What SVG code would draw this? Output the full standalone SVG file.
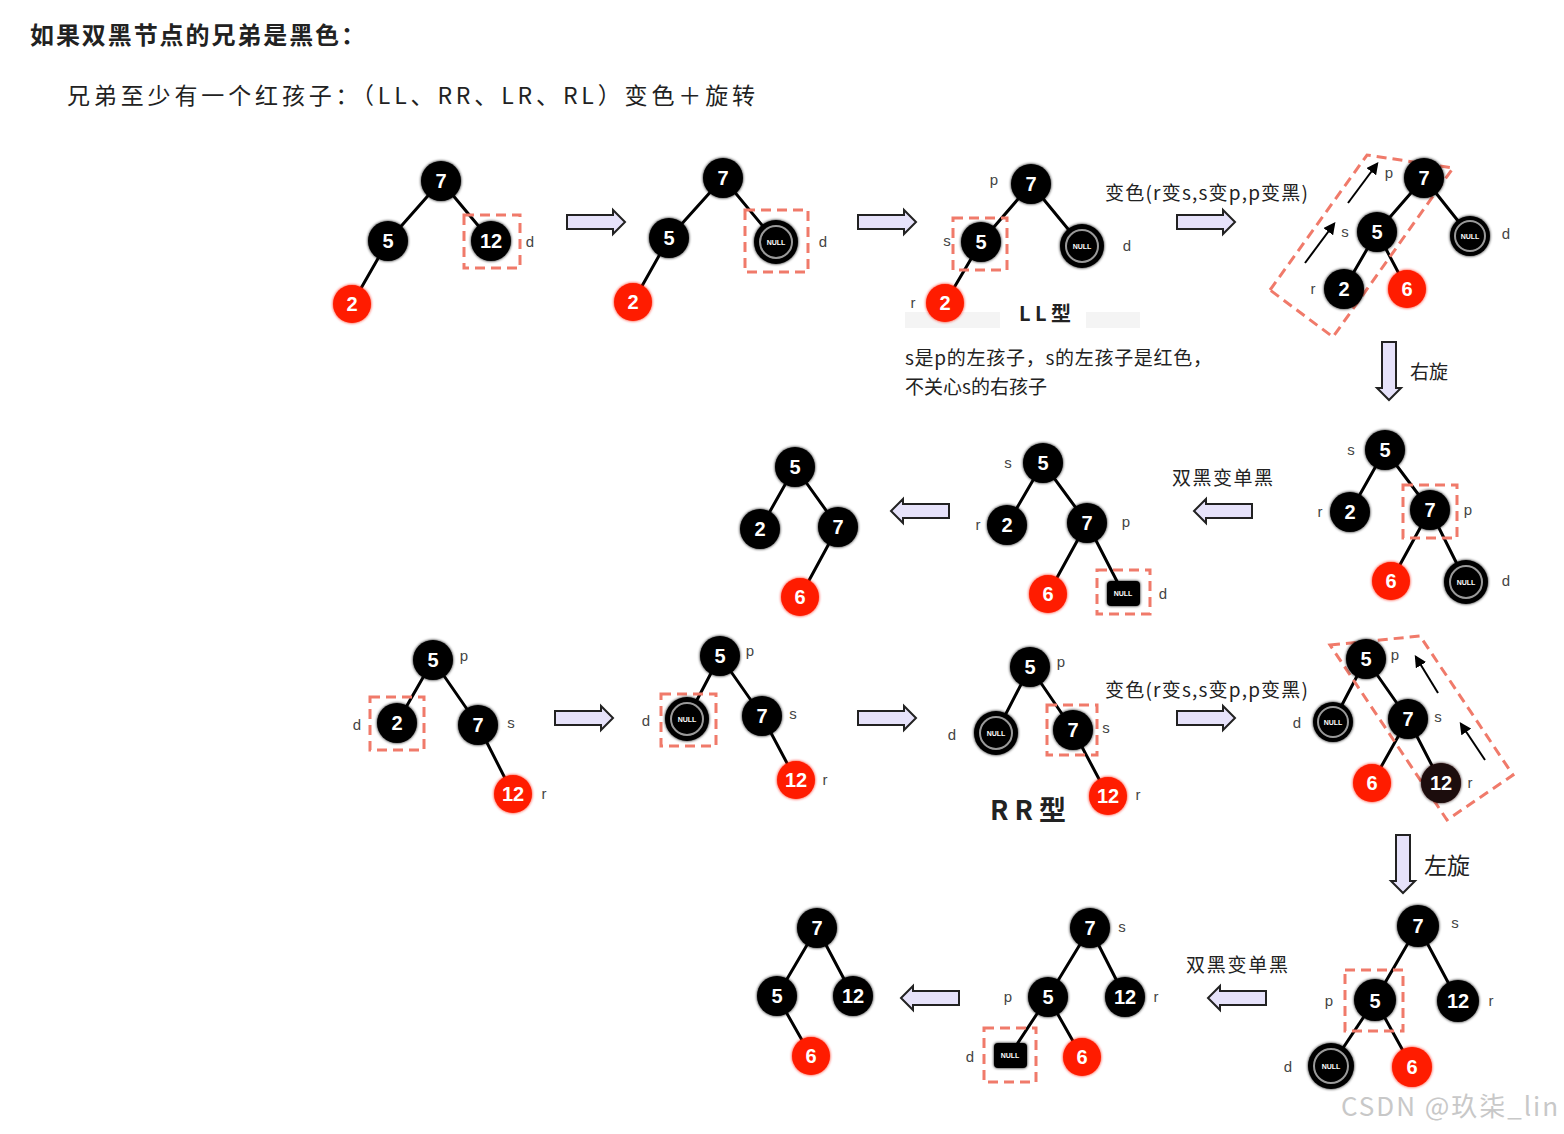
<svg xmlns="http://www.w3.org/2000/svg" width="1564" height="1134" viewBox="0 0 1564 1134">
<style>
.e{stroke:#000;stroke-width:3;stroke-linecap:round}
.nb{fill:#000;filter:url(#soft)}
.nr{fill:#ff1a00;filter:url(#soft)}
.nd{fill:#1a0808;filter:url(#soft)}
.nt{fill:#fff;font-family:"Liberation Sans",Arial,sans-serif;font-weight:bold;font-size:20px;text-anchor:middle}
.lb{fill:#444;font-family:"Liberation Sans",Arial,sans-serif;font-size:15px;text-anchor:middle}
.db{fill:none;stroke:#f07a6a;stroke-width:3;stroke-dasharray:10 6}
.ar{fill:#e6e2fa;stroke:#222;stroke-width:2}
.ring{fill:none;stroke:#9a9a9a;stroke-width:2}
.nl{fill:#fff;font-family:"Liberation Sans",Arial,sans-serif;font-weight:bold;font-size:7px;text-anchor:middle}
.cn{font-family:"Noto Sans CJK SC","Liberation Sans",sans-serif;fill:#222}
.ba{stroke:#000;stroke-width:2;fill:none;marker-end:url(#ah)}
</style>
<defs>
<filter id="soft" x="-30%" y="-30%" width="160%" height="160%">
<feGaussianBlur in="SourceGraphic" stdDeviation="1.8" result="b"/>
<feMerge><feMergeNode in="b"/><feMergeNode in="SourceGraphic"/></feMerge>
</filter>
<path id="arR" class="ar" d="M0,-7 H46 V-12 L58,0 L46,12 V7 H0 Z"/>
<marker id="ah" viewBox="0 0 10 10" refX="8" refY="5" markerWidth="6" markerHeight="6" orient="auto">
<path d="M0,0 L10,5 L0,10 Z" fill="#000"/>
</marker>
</defs>
<rect width="1564" height="1134" fill="#fff"/>

<g id="texts">
<text class="cn" x="30" y="44" font-size="24" font-weight="bold" textLength="335" lengthAdjust="spacing">如果双黑节点的兄弟是黑色：</text>
<text class="cn" x="67" y="104" font-size="23" fill="#333" textLength="688" lengthAdjust="spacing">兄弟至少有一个红孩子：（LL、RR、LR、RL）变色＋旋转</text>
<text class="cn" x="1105" y="200" font-size="19" textLength="203" lengthAdjust="spacing">变色(r变s,s变p,p变黑)</text>
<text class="cn" x="1105" y="697" font-size="19" textLength="203" lengthAdjust="spacing">变色(r变s,s变p,p变黑)</text>
<rect x="905" y="312" width="95" height="16" fill="#f4f4f4"/>
<rect x="1086" y="312" width="54" height="16" fill="#f4f4f4"/>
<text class="cn" x="1045" y="321" font-size="20" font-weight="bold" text-anchor="middle">L L 型</text>
<text class="cn" x="905" y="365" font-size="19" textLength="307" lengthAdjust="spacing">s是p的左孩子，s的左孩子是红色，</text>
<text class="cn" x="905" y="394" font-size="19">不关心s的右孩子</text>
<text class="cn" x="1028" y="820" font-size="27" font-weight="bold" text-anchor="middle">R R 型</text>
<text class="cn" x="1172" y="485" font-size="19" textLength="101" lengthAdjust="spacing">双黑变单黑</text>
<text class="cn" x="1186" y="972" font-size="19" textLength="102" lengthAdjust="spacing">双黑变单黑</text>
<text class="cn" x="1410" y="379" font-size="19">右旋</text>
<text class="cn" x="1424" y="874" font-size="23">左旋</text>
<text x="1341" y="1116" font-family="Noto Sans CJK SC,Liberation Sans,sans-serif" font-size="26" fill="#c8c8c8" textLength="217" lengthAdjust="spacing">CSDN @玖柒_lin</text>
</g>

<g id="connectors">
<line class="e" x1="441" y1="181" x2="388" y2="241"/><line class="e" x1="441" y1="181" x2="491" y2="241"/><line class="e" x1="388" y1="241" x2="352" y2="304"/>
<line class="e" x1="723" y1="178" x2="669" y2="238"/><line class="e" x1="723" y1="178" x2="776" y2="242"/><line class="e" x1="669" y1="238" x2="633" y2="302"/>
<line class="e" x1="1031" y1="184" x2="981" y2="242"/><line class="e" x1="1031" y1="184" x2="1082" y2="246"/><line class="e" x1="981" y1="242" x2="945" y2="303"/>
<line class="e" x1="1424" y1="178" x2="1377" y2="232"/><line class="e" x1="1424" y1="178" x2="1470" y2="236"/><line class="e" x1="1377" y1="232" x2="1344" y2="289"/><line class="e" x1="1377" y1="232" x2="1407" y2="289"/>
<line class="e" x1="1385" y1="450" x2="1350" y2="512"/><line class="e" x1="1385" y1="450" x2="1430" y2="510"/><line class="e" x1="1430" y1="510" x2="1391" y2="581"/><line class="e" x1="1430" y1="510" x2="1466" y2="582"/>
<line class="e" x1="1043" y1="463" x2="1007" y2="525"/><line class="e" x1="1043" y1="463" x2="1087" y2="523"/><line class="e" x1="1087" y1="523" x2="1048" y2="594"/><line class="e" x1="1087" y1="523" x2="1123" y2="593"/>
<line class="e" x1="795" y1="467" x2="760" y2="529"/><line class="e" x1="795" y1="467" x2="838" y2="527"/><line class="e" x1="838" y1="527" x2="800" y2="597"/>
<line class="e" x1="433" y1="660" x2="397" y2="723"/><line class="e" x1="433" y1="660" x2="478" y2="725"/><line class="e" x1="478" y1="725" x2="513" y2="794"/>
<line class="e" x1="720" y1="656" x2="687" y2="719"/><line class="e" x1="720" y1="656" x2="762" y2="716"/><line class="e" x1="762" y1="716" x2="796" y2="780"/>
<line class="e" x1="1030" y1="667" x2="996" y2="733"/><line class="e" x1="1030" y1="667" x2="1073" y2="730"/><line class="e" x1="1073" y1="730" x2="1108" y2="796"/>
<line class="e" x1="1366" y1="659" x2="1333" y2="722"/><line class="e" x1="1366" y1="659" x2="1408" y2="719"/><line class="e" x1="1408" y1="719" x2="1372" y2="783"/><line class="e" x1="1408" y1="719" x2="1441" y2="783"/>
<line class="e" x1="1418" y1="926" x2="1375" y2="1000"/><line class="e" x1="1418" y1="926" x2="1458" y2="1001"/><line class="e" x1="1375" y1="1000" x2="1331" y2="1066"/><line class="e" x1="1375" y1="1000" x2="1412" y2="1067"/>
<line class="e" x1="1090" y1="928" x2="1048" y2="997"/><line class="e" x1="1090" y1="928" x2="1125" y2="997"/><line class="e" x1="1048" y1="997" x2="1010" y2="1055"/><line class="e" x1="1048" y1="997" x2="1082" y2="1057"/>
<line class="e" x1="817" y1="928" x2="777" y2="996"/><line class="e" x1="817" y1="928" x2="853" y2="996"/><line class="e" x1="777" y1="996" x2="811" y2="1056"/>
<!-- block arrows -->
<use href="#arR" transform="translate(567,222)"/>
<use href="#arR" transform="translate(858,222)"/>
<use href="#arR" transform="translate(1177,222)"/>
<use href="#arR" transform="translate(555,718)"/>
<use href="#arR" transform="translate(858,718)"/>
<use href="#arR" transform="translate(1177,718)"/>
<use href="#arR" transform="translate(1252,511) scale(-1,1)"/>
<use href="#arR" transform="translate(949,511) scale(-1,1)"/>
<use href="#arR" transform="translate(1266,998) scale(-1,1)"/>
<use href="#arR" transform="translate(959,998) scale(-1,1)"/>
<use href="#arR" transform="translate(1389,342) rotate(90)"/>
<use href="#arR" transform="translate(1403,835) rotate(90)"/>
<!-- small black arrows -->
<line class="ba" x1="1305" y1="263" x2="1334" y2="224"/>
<line class="ba" x1="1348" y1="203" x2="1377" y2="164"/>
<line class="ba" x1="1438" y1="693" x2="1416" y2="657"/>
<line class="ba" x1="1485" y1="760" x2="1461" y2="724"/>
</g>

<g id="highlights">
<rect class="db" x="464" y="215" width="56" height="53"/>
<rect class="db" x="745" y="210" width="63" height="62"/>
<rect class="db" x="953" y="218" width="54" height="52"/>
<polygon class="db" points="1270,290 1367,155 1453,168 1333,337"/>
<rect class="db" x="1403" y="485" width="54" height="53"/>
<rect class="db" x="1097" y="570" width="53" height="44"/>
<rect class="db" x="370" y="697" width="54" height="53"/>
<rect class="db" x="661" y="694" width="55" height="52"/>
<rect class="db" x="1047" y="705" width="50" height="50"/>
<polygon class="db" points="1330,645 1420,636 1513,775 1447,820"/>
<rect class="db" x="1345" y="970" width="58" height="61"/>
<rect class="db" x="984" y="1028" width="52" height="54"/>
</g>

<!-- Tree A -->
<g id="a7"><circle class="nb" cx="441" cy="181" r="20"/><text class="nt" x="441" y="188">7</text></g>
<g id="a5"><circle class="nb" cx="388" cy="241" r="20"/><text class="nt" x="388" y="248">5</text></g>
<g id="a12"><circle class="nb" cx="491" cy="241" r="20"/><text class="nt" x="491" y="248">12</text><text class="lb" x="530" y="247">d</text></g>
<g id="a2"><circle class="nr" cx="352" cy="304" r="19"/><text class="nt" x="352" y="311">2</text></g>
<!-- Tree B -->
<g id="b7"><circle class="nb" cx="723" cy="178" r="20"/><text class="nt" x="723" y="185">7</text></g>
<g id="b5"><circle class="nb" cx="669" cy="238" r="20"/><text class="nt" x="669" y="245">5</text></g>
<g id="bnull"><circle class="nb" cx="776" cy="242" r="22"/><circle class="ring" cx="776" cy="242" r="16"/><text class="nl" x="776" y="245">NULL</text><text class="lb" x="823" y="247">d</text></g>
<g id="b2"><circle class="nr" cx="633" cy="302" r="19"/><text class="nt" x="633" y="309">2</text></g>
<!-- Tree C -->
<g id="c7"><circle class="nb" cx="1031" cy="184" r="20"/><text class="nt" x="1031" y="191">7</text><text class="lb" x="994" y="185">p</text></g>
<g id="c5"><circle class="nb" cx="981" cy="242" r="20"/><text class="nt" x="981" y="249">5</text><text class="lb" x="947" y="246" font-size="11">s</text></g>
<g id="cnull"><circle class="nb" cx="1082" cy="246" r="22"/><circle class="ring" cx="1082" cy="246" r="16"/><text class="nl" x="1082" y="249">NULL</text><text class="lb" x="1127" y="251">d</text></g>
<g id="c2"><circle class="nr" cx="945" cy="303" r="19"/><text class="nt" x="945" y="310">2</text><text class="lb" x="913" y="308">r</text></g>
<!-- Tree D -->
<g id="d7"><circle class="nb" cx="1424" cy="178" r="20"/><text class="nt" x="1424" y="185">7</text><text class="lb" x="1389" y="178">p</text></g>
<g id="d5"><circle class="nb" cx="1377" cy="232" r="20"/><text class="nt" x="1377" y="239">5</text><text class="lb" x="1345" y="237">s</text></g>
<g id="dnull"><circle class="nb" cx="1470" cy="236" r="20"/><circle class="ring" cx="1470" cy="236" r="15"/><text class="nl" x="1470" y="239">NULL</text><text class="lb" x="1506" y="239">d</text></g>
<g id="d2"><circle class="nb" cx="1344" cy="289" r="20"/><text class="nt" x="1344" y="296">2</text><text class="lb" x="1313" y="294">r</text></g>
<g id="d6"><circle class="nr" cx="1407" cy="289" r="19"/><text class="nt" x="1407" y="296">6</text></g>
<!-- Tree E -->
<g id="e5"><circle class="nb" cx="1385" cy="450" r="20"/><text class="nt" x="1385" y="457">5</text><text class="lb" x="1351" y="455">s</text></g>
<g id="e2"><circle class="nb" cx="1350" cy="512" r="20"/><text class="nt" x="1350" y="519">2</text><text class="lb" x="1320" y="517">r</text></g>
<g id="e7"><circle class="nb" cx="1430" cy="510" r="20"/><text class="nt" x="1430" y="517">7</text><text class="lb" x="1468" y="515">p</text></g>
<g id="e6"><circle class="nr" cx="1391" cy="581" r="19"/><text class="nt" x="1391" y="588">6</text></g>
<g id="enull"><circle class="nb" cx="1466" cy="582" r="22"/><circle class="ring" cx="1466" cy="582" r="16"/><text class="nl" x="1466" y="585">NULL</text><text class="lb" x="1506" y="586">d</text></g>
<!-- Tree F -->
<g id="f5"><circle class="nb" cx="1043" cy="463" r="20"/><text class="nt" x="1043" y="470">5</text><text class="lb" x="1008" y="468">s</text></g>
<g id="f2"><circle class="nb" cx="1007" cy="525" r="20"/><text class="nt" x="1007" y="532">2</text><text class="lb" x="978" y="530">r</text></g>
<g id="f7"><circle class="nb" cx="1087" cy="523" r="20"/><text class="nt" x="1087" y="530">7</text><text class="lb" x="1126" y="527">p</text></g>
<g id="f6"><circle class="nr" cx="1048" cy="594" r="19"/><text class="nt" x="1048" y="601">6</text></g>
<g id="fnull"><rect class="nb" x="1107" y="581" width="33" height="25" rx="4"/><text class="nl" x="1123" y="596">NULL</text><text class="lb" x="1163" y="599">d</text></g>
<!-- Tree G -->
<g id="g5"><circle class="nb" cx="795" cy="467" r="20"/><text class="nt" x="795" y="474">5</text></g>
<g id="g2"><circle class="nb" cx="760" cy="529" r="20"/><text class="nt" x="760" y="536">2</text></g>
<g id="g7"><circle class="nb" cx="838" cy="527" r="20"/><text class="nt" x="838" y="534">7</text></g>
<g id="g6"><circle class="nr" cx="800" cy="597" r="19"/><text class="nt" x="800" y="604">6</text></g>
<!-- Tree H -->
<g id="h5"><circle class="nb" cx="433" cy="660" r="20"/><text class="nt" x="433" y="667">5</text><text class="lb" x="464" y="661">p</text></g>
<g id="h2"><circle class="nb" cx="397" cy="723" r="20"/><text class="nt" x="397" y="730">2</text><text class="lb" x="357" y="730">d</text></g>
<g id="h7"><circle class="nb" cx="478" cy="725" r="20"/><text class="nt" x="478" y="732">7</text><text class="lb" x="511" y="728">s</text></g>
<g id="h12"><circle class="nr" cx="513" cy="794" r="19"/><text class="nt" x="513" y="801">12</text><text class="lb" x="544" y="799">r</text></g>
<!-- Tree I -->
<g id="i5"><circle class="nb" cx="720" cy="656" r="20"/><text class="nt" x="720" y="663">5</text><text class="lb" x="750" y="656">p</text></g>
<g id="inull"><circle class="nb" cx="687" cy="719" r="22"/><circle class="ring" cx="687" cy="719" r="16"/><text class="nl" x="687" y="722">NULL</text><text class="lb" x="646" y="726">d</text></g>
<g id="i7"><circle class="nb" cx="762" cy="716" r="20"/><text class="nt" x="762" y="723">7</text><text class="lb" x="793" y="719">s</text></g>
<g id="i12"><circle class="nr" cx="796" cy="780" r="19"/><text class="nt" x="796" y="787">12</text><text class="lb" x="825" y="785">r</text></g>
<!-- Tree J -->
<g id="j5"><circle class="nb" cx="1030" cy="667" r="20"/><text class="nt" x="1030" y="674">5</text><text class="lb" x="1061" y="667">p</text></g>
<g id="jnull"><circle class="nb" cx="996" cy="733" r="22"/><circle class="ring" cx="996" cy="733" r="16"/><text class="nl" x="996" y="736">NULL</text><text class="lb" x="952" y="740">d</text></g>
<g id="j7"><circle class="nb" cx="1073" cy="730" r="20"/><text class="nt" x="1073" y="737">7</text><text class="lb" x="1106" y="733">s</text></g>
<g id="j12"><circle class="nr" cx="1108" cy="796" r="19"/><text class="nt" x="1108" y="803">12</text><text class="lb" x="1138" y="800">r</text></g>
<!-- Tree K -->
<g id="k5"><circle class="nb" cx="1366" cy="659" r="20"/><text class="nt" x="1366" y="666">5</text><text class="lb" x="1395" y="660">p</text></g>
<g id="knull"><circle class="nb" cx="1333" cy="722" r="20"/><circle class="ring" cx="1333" cy="722" r="15"/><text class="nl" x="1333" y="725">NULL</text><text class="lb" x="1297" y="728">d</text></g>
<g id="k7"><circle class="nb" cx="1408" cy="719" r="20"/><text class="nt" x="1408" y="726">7</text><text class="lb" x="1438" y="722">s</text></g>
<g id="k6"><circle class="nr" cx="1372" cy="783" r="19"/><text class="nt" x="1372" y="790">6</text></g>
<g id="k12"><circle class="nd" cx="1441" cy="783" r="20"/><text class="nt" x="1441" y="790">12</text><text class="lb" x="1470" y="788">r</text></g>
<!-- Tree L -->
<g id="l7"><circle class="nb" cx="1418" cy="926" r="21"/><text class="nt" x="1418" y="933">7</text><text class="lb" x="1455" y="928">s</text></g>
<g id="l5"><circle class="nb" cx="1375" cy="1000" r="21"/><text class="nt" x="1375" y="1008">5</text><text class="lb" x="1329" y="1006">p</text></g>
<g id="l12"><circle class="nb" cx="1458" cy="1001" r="21"/><text class="nt" x="1458" y="1008">12</text><text class="lb" x="1491" y="1006">r</text></g>
<g id="lnull"><circle class="nb" cx="1331" cy="1066" r="23"/><circle class="ring" cx="1331" cy="1066" r="17"/><text class="nl" x="1331" y="1069">NULL</text><text class="lb" x="1288" y="1072">d</text></g>
<g id="l6"><circle class="nr" cx="1412" cy="1067" r="20"/><text class="nt" x="1412" y="1074">6</text></g>
<!-- Tree M -->
<g id="m7"><circle class="nb" cx="1090" cy="928" r="20"/><text class="nt" x="1090" y="935">7</text><text class="lb" x="1122" y="932">s</text></g>
<g id="m5"><circle class="nb" cx="1048" cy="997" r="20"/><text class="nt" x="1048" y="1004">5</text><text class="lb" x="1008" y="1002">p</text></g>
<g id="m12"><circle class="nb" cx="1125" cy="997" r="20"/><text class="nt" x="1125" y="1004">12</text><text class="lb" x="1156" y="1002">r</text></g>
<g id="mnull"><rect class="nb" x="994" y="1043" width="33" height="25" rx="4"/><text class="nl" x="1010" y="1058">NULL</text><text class="lb" x="970" y="1062">d</text></g>
<g id="m6"><circle class="nr" cx="1082" cy="1057" r="19"/><text class="nt" x="1082" y="1064">6</text></g>
<!-- Tree N -->
<g id="n7"><circle class="nb" cx="817" cy="928" r="20"/><text class="nt" x="817" y="935">7</text></g>
<g id="n5"><circle class="nb" cx="777" cy="996" r="20"/><text class="nt" x="777" y="1003">5</text></g>
<g id="n12"><circle class="nb" cx="853" cy="996" r="20"/><text class="nt" x="853" y="1003">12</text></g>
<g id="n6"><circle class="nr" cx="811" cy="1056" r="19"/><text class="nt" x="811" y="1063">6</text></g>
</svg>
